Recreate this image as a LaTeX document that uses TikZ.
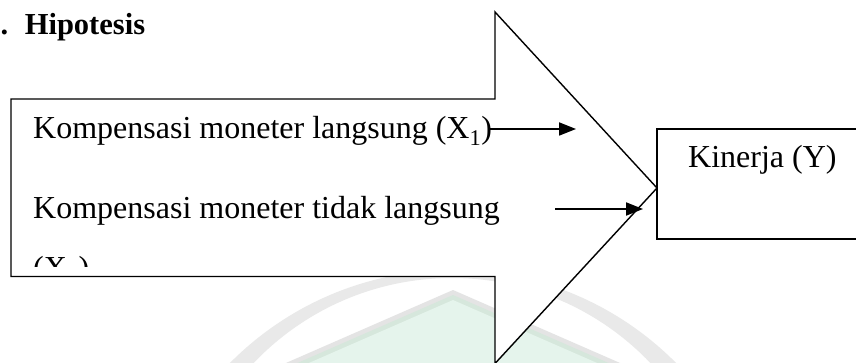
\documentclass[tikz,border=0pt]{standalone}
\usepackage{fontspec}
\setmainfont{Liberation Serif}
\usetikzlibrary{arrows.meta}
\definecolor{wmgray}{HTML}{E9E9E9}
\definecolor{wmline}{HTML}{E4E4E4}
\definecolor{wmgreenline}{HTML}{D6E7DC}
\definecolor{wmgreen}{HTML}{E5F4EC}
\begin{document}
\begin{tikzpicture}[x=1pt,y=-1pt,
  txt/.style={font=\fontsize{32}{38}\selectfont, inner sep=0pt, anchor=base west},
  titletxt/.style={font=\fontsize{30.5}{36}\selectfont\bfseries, inner sep=0pt, anchor=base west},
  bigarrow/.style={draw=black, fill=white, line width=1.4pt, line join=miter},
  boxline/.style={draw=black, line width=1.3pt},
  flow/.style={line width=1.8pt, -{Triangle[length=17pt,width=13pt]}}]
\useasboundingbox (0,0) rectangle (856,363);
\clip (0,0) rectangle (856,363);
\fill[white] (0,0) rectangle (856,363);
% watermark
\fill[wmgray, even odd rule] (453,584) circle[radius=314pt] (452,552) circle[radius=274pt];
\fill[wmline] (453,290) -- (750.5,420) -- (155.5,420) -- cycle;
\fill[wmgreenline] (453,295) -- (739,420) -- (167,420) -- cycle;
\fill[wmgreen] (453,300) -- (727.6,420) -- (178.4,420) -- cycle;
% big arrow
\coordinate (sTL) at (11,99);
\coordinate (sTR) at (495,99);
\coordinate (hT) at (495,12);
\coordinate (tip) at (657,188);
\coordinate (hB) at (495,363.5);
\coordinate (sBR) at (495,276.5);
\coordinate (sBL) at (11,276.5);
\draw[bigarrow] (sTL) -- (sTR) -- (hT) -- (tip) -- (hB) -- (sBR) -- (sBL) -- cycle;
% title
\node (htitle) [titletxt] at (0.5,35) {.\hspace{16.5pt}Hipotesis};
% texts
\node (k1) [txt] at (33,139) {Kompensasi moneter langsung (X\textsubscript{1})};
\node (k2) [txt] at (33,219) {Kompensasi moneter tidak langsung};
\begin{scope}
\clip (11,99) rectangle (495,266);
\node (k3) [txt] at (33,279) {(X\textsubscript{2})};
\end{scope}
% small arrows
\coordinate (a1s) at (488,129);
\coordinate (a1e) at (576,129);
\coordinate (a2s) at (555,209);
\coordinate (a2e) at (643,209);
\draw[flow] (a1s) -- (a1e);
\draw[flow] (a2s) -- (a2e);
% Kinerja box
\draw[boxline] (657,129) rectangle (875,239);
\node (kin) [txt] at (688,167.5) {Kinerja (Y)};
\end{tikzpicture}
\end{document}
